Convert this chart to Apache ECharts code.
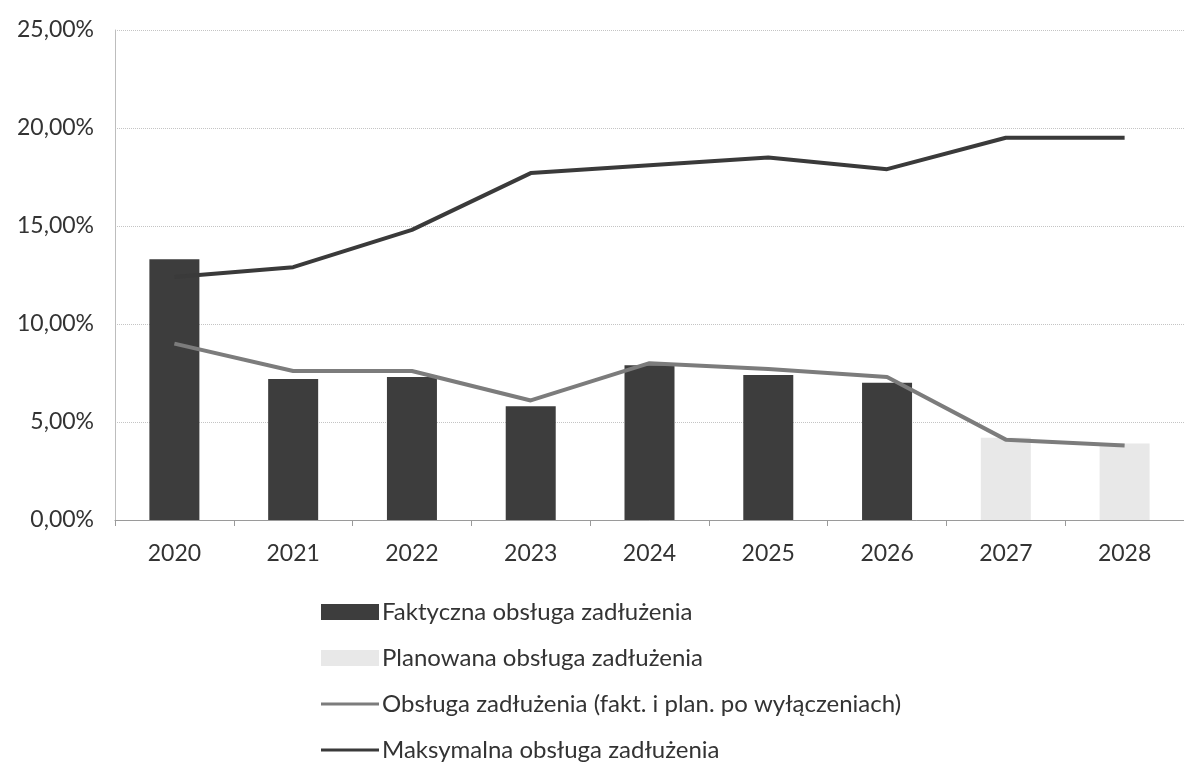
<!DOCTYPE html>
<html>
<head>
<meta charset="utf-8">
<script src="https://cdn.jsdelivr.net/npm/echarts@6/dist/echarts.min.js"></script>
<style>
html,body{margin:0;padding:0;background:#fff;}
#chart{width:1184px;height:768px;}
</style>
</head>
<body>
<div id="chart"></div>
<script>
var years = ['2020','2021','2022','2023','2024','2025','2026','2027','2028'];
var actualDebt = [13.3, 7.2, 7.3, 5.8, 7.9, 7.4, 7.0, null, null];
var plannedDebt = [null, null, null, null, null, null, null, 4.2, 3.9];
var debtAfterExclusions = [9.0, 7.6, 7.6, 6.1, 8.0, 7.7, 7.3, 4.1, 3.8];
var maxDebt = [12.4, 12.9, 14.8, 17.7, 18.1, 18.5, 17.9, 19.5, 19.5];
var yTicks = [0, 5, 10, 15, 20, 25];

var names = [
  'Faktyczna obsługa zadłużenia',
  'Planowana obsługa zadłużenia',
  'Obsługa zadłużenia (fakt. i plan. po wyłączeniach)',
  'Maksymalna obsługa zadłużenia'
];
var lineIcon = 'path://M0,0L0.01,0M0,6.5L58,6.5L58,9.5L0,9.5ZM0,16L0.01,16';

var chart = echarts.init(document.getElementById('chart'));
var font = 'Lato, "Open Sans", sans-serif';
chart.setOption({
  animation: false,
  backgroundColor: '#ffffff',
  textStyle: {fontFamily: font},
  grid: {left: 115, right: -28, top: 30, bottom: 248, containLabel: false},
  legend: {
    orient: 'vertical',
    left: 321,
    top: 600,
    height: 220,
    padding: 0,
    itemWidth: 58,
    itemHeight: 16,
    itemGap: 22,
    textStyle: {fontFamily: font, fontSize: 24, color: '#333333', padding: [0,0,0,-2]},
    data: [
      {name: names[0], icon: 'rect'},
      {name: names[1], icon: 'rect'},
      {name: names[2], icon: lineIcon},
      {name: names[3], icon: lineIcon}
    ]
  },
  xAxis: {
    type: 'category',
    data: years,
    axisLine: {lineStyle: {color: '#9a9a9a', width: 1}},
    axisTick: {show: true, length: 6, lineStyle: {color: '#9a9a9a'}},
    axisLabel: {fontFamily: font, fontSize: 23, color: '#333333', margin: 22}
  },
  yAxis: {
    type: 'value',
    min: yTicks[0],
    max: yTicks[yTicks.length-1],
    interval: 5,
    axisLine: {show: true, lineStyle: {color: '#bdbdbd', width: 1}},
    axisTick: {show: false},
    splitLine: {lineStyle: {color: '#c4c4c4', type: 'dotted', width: 1}},
    axisLabel: {
      fontFamily: font, fontSize: 23, color: '#333333', margin: 21,
      formatter: function (v) { return v.toFixed(2).replace('.', ',') + '%'; }
    }
  },
  series: [
    {
      name: names[0], type: 'bar', data: actualDebt, barWidth: 50, barGap: '-100%',
      itemStyle: {color: '#3d3d3d'}
    },
    {
      name: names[1], type: 'bar', data: plannedDebt, barWidth: 50, barGap: '-100%',
      itemStyle: {color: '#e8e8e8'}
    },
    {
      name: names[2], type: 'line', data: debtAfterExclusions, symbol: 'none',
      lineStyle: {color: '#7c7c7c', width: 4}, itemStyle: {color: '#7c7c7c'}
    },
    {
      name: names[3], type: 'line', data: maxDebt, symbol: 'none',
      lineStyle: {color: '#3a3a3a', width: 4}, itemStyle: {color: '#3a3a3a'}
    }
  ]
});
</script>
</body>
</html>
